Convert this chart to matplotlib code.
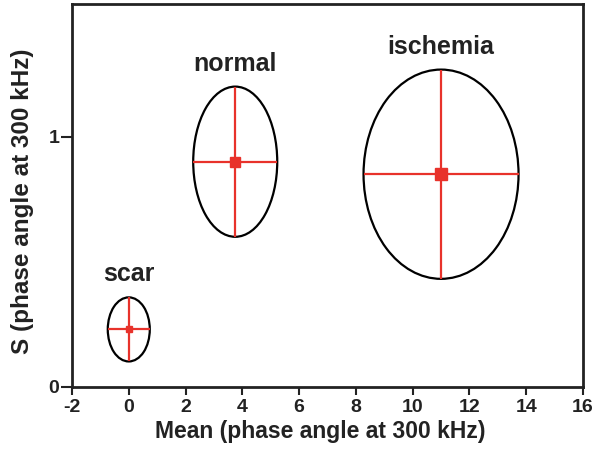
import matplotlib
matplotlib.use('Agg')
import matplotlib.pyplot as plt
from matplotlib.patches import Ellipse

plt.rcParams['font.family'] = ['Liberation Sans', 'DejaVu Sans']
plt.rcParams['font.weight'] = 'bold'
plt.rcParams['axes.unicode_minus'] = False

# groups: centre (mean, S) and half-spread along each axis
groups = ['scar', 'normal', 'ischemia']
mean_x = [0.0, 3.75, 11.0]
s_y = [0.23, 0.90, 0.85]
half_w = [0.74, 1.48, 2.73]
half_h = [0.128, 0.30, 0.418]
label_y = [0.45, 1.29, 1.36]
marker_sz = [4, 7, 8]

xticks = [-2, 0, 2, 4, 6, 8, 10, 12, 14, 16]
yticks = [0, 1]

red = '#e8322b'
ink = '#222222'

fig = plt.figure(figsize=(6.03, 4.55), dpi=100)
ax = fig.add_axes([0.1194, 0.1495, 0.8474, 0.8417])

for i, g in enumerate(groups):
    ell = Ellipse((mean_x[i], s_y[i]), 2 * half_w[i], 2 * half_h[i],
                  facecolor='none', edgecolor='black', lw=1.6, zorder=2)
    ax.add_patch(ell)
    ax.errorbar(mean_x[i], s_y[i], xerr=half_w[i], yerr=half_h[i],
                fmt='s', color=red, ms=marker_sz[i], elinewidth=1.6,
                capsize=0, zorder=3)
    ax.text(mean_x[i], label_y[i], g, ha='center', va='center',
            fontsize=18, fontweight='bold', color=ink)

ax.set_xlim(-2, 16)
ax.set_ylim(0, 1.53)
ax.set_xticks(xticks)
ax.set_yticks(yticks)
ax.tick_params(labelsize=14, width=1.5, colors=ink)
ax.tick_params(axis='x', length=6, pad=3)
ax.tick_params(axis='y', length=8, pad=1)
for lab in ax.get_xticklabels() + ax.get_yticklabels():
    lab.set_fontweight('bold')
for sp in ax.spines.values():
    sp.set_linewidth(2)
    sp.set_color(ink)

ax.set_xlabel('Mean (phase angle at 300 kHz)', fontsize=16.5, fontweight='bold',
              color=ink)
ax.set_ylabel('S (phase angle at 300 kHz)', fontsize=17.5, fontweight='bold',
              color=ink)
ax.xaxis.set_label_coords(0.485, -0.086)
ax.yaxis.set_label_coords(-0.074, 0.486)

fig.savefig('out.png', dpi=100)
plt.close(fig)
